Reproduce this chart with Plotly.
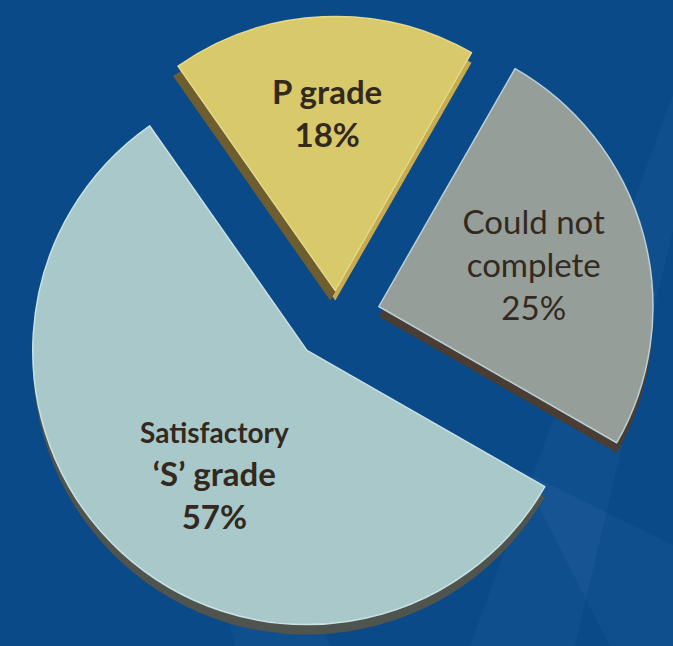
import plotly.graph_objects as go

# ---- data ----
labels = ["P grade", "Could not complete", "Satisfactory 'S' grade"]
values = [18, 25, 57]
slice_text = [
    "<b>P grade<br>18%</b>",
    "Could not<br>complete<br>25%",
    "\u00a0<br><b><span style='font-size:28px'>Satisfactory</span><br>\u2018S\u2019 grade<br>57%</b>",
]
pulls = [0.10, 0.16, 0.16]

face_colors = ["#D8CA6B", "#969E9A", "#A8C8C9"]
rim_colors = ["#E6D98A", "#B9D0D8", "#C9E2E6"]
side_colors = ["#C9AA4C", "#4A3D33", "#50544F"]
side_dark_colors = ["#6E5D2E", "rgba(0,0,0,0)", "rgba(0,0,0,0)"]

W, H = 673, 646
depth = 10  # px of 3D side
bg = "#0A4A88"
txt = "#33291F"

common = dict(
    labels=labels,
    values=values,
    sort=False,
    direction="clockwise",
    rotation=-35,
    pull=pulls,
    showlegend=False,
)

fig = go.Figure()

# light side (3D depth) shifted downward
fig.add_trace(go.Pie(
    **common,
    domain=dict(x=[0, 1], y=[0, 1 - depth / H]),
    marker=dict(colors=side_colors, line=dict(width=0)),
    textinfo="none",
    hoverinfo="skip",
))
# dark side for the yellow slice, shifted down-left
fig.add_trace(go.Pie(
    **common,
    domain=dict(x=[0, 1 - depth / W], y=[0, 1 - depth / H]),
    marker=dict(colors=side_dark_colors, line=dict(width=0)),
    textinfo="none",
    hoverinfo="skip",
))
# top faces
fig.add_trace(go.Pie(
    **common,
    domain=dict(x=[0, 1], y=[depth / H, 1]),
    marker=dict(colors=face_colors, line=dict(color=rim_colors, width=1.5)),
    text=slice_text,
    textinfo="text",
    textposition="inside",
    insidetextorientation="horizontal",
    textfont=dict(family="Lato, 'Open Sans', sans-serif", size=33, color=txt),
    hoverinfo="label+percent",
))

# faint background streaks
def px_path(points):
    return "M " + " L ".join(f"{x / W:.4f},{1 - y / H:.4f}" for x, y in points) + " Z"

streaks = [
    [(673, 95), (673, 230), (575, 646), (470, 646)],
    [(520, 470), (673, 545), (673, 646), (610, 646)],
    [(215, 560), (300, 560), (330, 646), (235, 646)],
]
shapes = [
    dict(type="path", xref="paper", yref="paper", path=px_path(p),
         fillcolor="rgba(120,175,230,0.06)", line=dict(width=0), layer="below")
    for p in streaks
]

fig.update_layout(
    width=W,
    height=H,
    margin=dict(l=0, r=0, t=0, b=0),
    paper_bgcolor=bg,
    plot_bgcolor=bg,
    shapes=shapes,
    uniformtext=dict(mode=False),
)

fig.write_html(
    "out.html",
    config={"displayModeBar": False},
    post_script="document.body.style.margin='0px';document.body.style.background='%s';" % bg,
)
